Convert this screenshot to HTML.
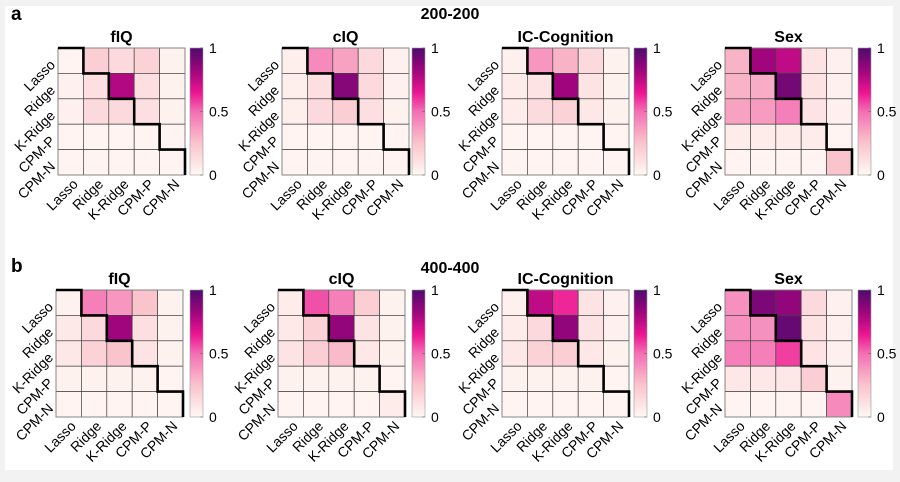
<!DOCTYPE html>
<html><head><meta charset="utf-8"><style>
html,body{margin:0;padding:0;background:#f2f2f2;}
#card{position:absolute;left:5px;top:6px;width:888px;height:464px;background:#fff;}
svg{position:absolute;left:0;top:0;}
text{font-family:"Liberation Sans",Arial,sans-serif;}
</style></head><body>
<div id="card"></div>
<svg id="fig" width="900" height="482"></svg>
<script>
const methods = ["Lasso","Ridge","K-Ridge","CPM-P","CPM-N"];
const colorbarTicks = [0, 0.5, 1];
const rowTitles = ["200-200","400-400"];
const panelTitles = ["fIQ","cIQ","IC-Cognition","Sex"];
const a_fIQ = [[0.02,0.2,0.15,0.18,0.03],[0.04,0.12,0.78,0.12,0.03],[0.04,0.15,0.15,0.12,0.03],[0.02,0.02,0.02,0.02,0.02],[0.02,0.02,0.02,0.02,0.02]];
const a_cIQ = [[0.05,0.42,0.35,0.15,0.04],[0.05,0.12,0.88,0.15,0.04],[0.05,0.15,0.2,0.12,0.03],[0.02,0.02,0.02,0.02,0.02],[0.02,0.02,0.02,0.02,0.02]];
const a_IC = [[0.04,0.38,0.3,0.15,0.03],[0.06,0.1,0.82,0.1,0.03],[0.06,0.14,0.18,0.08,0.03],[0.02,0.02,0.02,0.02,0.02],[0.02,0.02,0.02,0.02,0.02]];
const a_Sex = [[0.3,0.82,0.75,0.1,0.04],[0.3,0.32,0.92,0.1,0.04],[0.35,0.37,0.45,0.1,0.04],[0.06,0.06,0.06,0.06,0.02],[0.02,0.02,0.02,0.02,0.25]];
const b_fIQ = [[0.03,0.45,0.38,0.25,0.03],[0.07,0.15,0.82,0.12,0.03],[0.08,0.18,0.25,0.1,0.03],[0.03,0.03,0.03,0.03,0.02],[0.02,0.02,0.02,0.02,0.02]];
const b_cIQ = [[0.06,0.55,0.45,0.2,0.03],[0.07,0.18,0.85,0.1,0.03],[0.1,0.2,0.28,0.08,0.03],[0.03,0.03,0.03,0.03,0.02],[0.02,0.02,0.02,0.02,0.06]];
const b_IC = [[0.04,0.75,0.62,0.1,0.04],[0.06,0.15,0.85,0.1,0.04],[0.08,0.18,0.2,0.08,0.03],[0.03,0.03,0.03,0.03,0.02],[0.02,0.02,0.02,0.02,0.02]];
const b_Sex = [[0.4,0.9,0.85,0.15,0.04],[0.4,0.4,0.95,0.1,0.04],[0.45,0.45,0.58,0.1,0.04],[0.08,0.08,0.08,0.2,0.03],[0.02,0.02,0.02,0.02,0.42]];
const matrices = [[a_fIQ,a_cIQ,a_IC,a_Sex],[b_fIQ,b_cIQ,b_IC,b_Sex]];

const NS="http://www.w3.org/2000/svg";
const svg=document.getElementById('fig');
function mk(t,attrs,parent){const e=document.createElementNS(NS,t);for(const k in attrs)e.setAttribute(k,attrs[k]);(parent||svg).appendChild(e);return e;}
const stops=[[0,[255,248,244]],[0.25,[250,196,204]],[0.5,[244,110,180]],[0.65,[236,20,145]],[0.82,[160,5,125]],[1,[80,10,110]]];
function cmap(v){v=Math.max(0,Math.min(1,v));for(let i=1;i<stops.length;i++){if(v<=stops[i][0]){const[a,c0]=stops[i-1],[b,c1]=stops[i];const t=(v-a)/(b-a);return 'rgb('+c0.map((c,j)=>Math.round(c+(c1[j]-c)*t)).join(',')+')';}}return 'rgb(80,10,110)';}
const defs=mk('defs',{});
const lg=mk('linearGradient',{id:'cb',x1:0,y1:1,x2:0,y2:0},defs);
for(let i=0;i<=20;i++){mk('stop',{offset:i/20,'stop-color':cmap(i/20)},lg);}

const gridX=[[58,282,502,725],[56,278,502,725]];
const gridY=[48,290];
const G=127, n=methods.length, cs=G/n;
const cbX=[[190,412,634,858],[190,412,634,858]];

rowTitles.forEach((t,r)=>{
  const tt=mk('text',{x:450,y:r?273:19,'text-anchor':'middle','font-size':16,'font-weight':'bold'});tt.textContent=t;
  
  
  const lab=mk('text',{x:11,y:r?272:20,'font-size':19,'font-weight':'bold'});lab.textContent=r?'b':'a';
  
  
});

matrices.forEach((row,r)=>row.forEach((M,p)=>{
  const g=mk('g',{});
  
  
  const x0=gridX[r][p], y0=gridY[r];
  const xs=i=>x0+i*cs, ys=j=>y0+j*cs;
  const ti=mk('text',{x:x0+G/2,y:y0-6,'text-anchor':'middle','font-size':16,'font-weight':'bold'},g);ti.textContent=panelTitles[p];
  
  
  for(let j=0;j<n;j++)for(let i=0;i<n;i++){
    const c=mk('rect',{x:xs(i),y:ys(j),width:cs,height:cs,fill:cmap(M[j][i]),stroke:'#444','stroke-width':0.7},g);
    
    
  }
  mk('rect',{x:x0,y:y0,width:G,height:G,fill:'none',stroke:'#888','stroke-width':0.8},g);
  let d='M'+xs(0)+' '+ys(0);
  for(let k=1;k<=n;k++){d+=' H'+xs(k)+' V'+ys(k);}
  const st=mk('path',{d:d,fill:'none',stroke:'#000','stroke-width':2.6},g);
  
  
  methods.forEach((m,k)=>{
    const yl=mk('text',{x:0,y:0,'text-anchor':'end','font-size':14,transform:'translate('+(x0-2)+','+(ys(k)+cs/2+5)+') rotate(-45)'},g);yl.textContent=m;
    
    
    const xl=mk('text',{x:0,y:0,'text-anchor':'end','font-size':14,transform:'translate('+(xs(k)+cs/2+8)+','+(y0+G+10)+') rotate(-45)'},g);xl.textContent=m;
    
    
  });
  const cx=cbX[r][p];
  const cb=mk('rect',{x:cx,y:y0,width:13,height:G,fill:'url(#cb)',stroke:'#999','stroke-width':0.6},g);
  
  
  colorbarTicks.forEach(v=>{
    const yy=y0+G-v*G;
    mk('line',{x1:cx+10,x2:cx+13,y1:yy,y2:yy,stroke:'#666','stroke-width':0.6},g);
    const tl=mk('text',{x:cx+19,y:yy+5,'font-size':14},g);tl.textContent=String(v);
    
    
  });
}));
</script>
</body></html>
